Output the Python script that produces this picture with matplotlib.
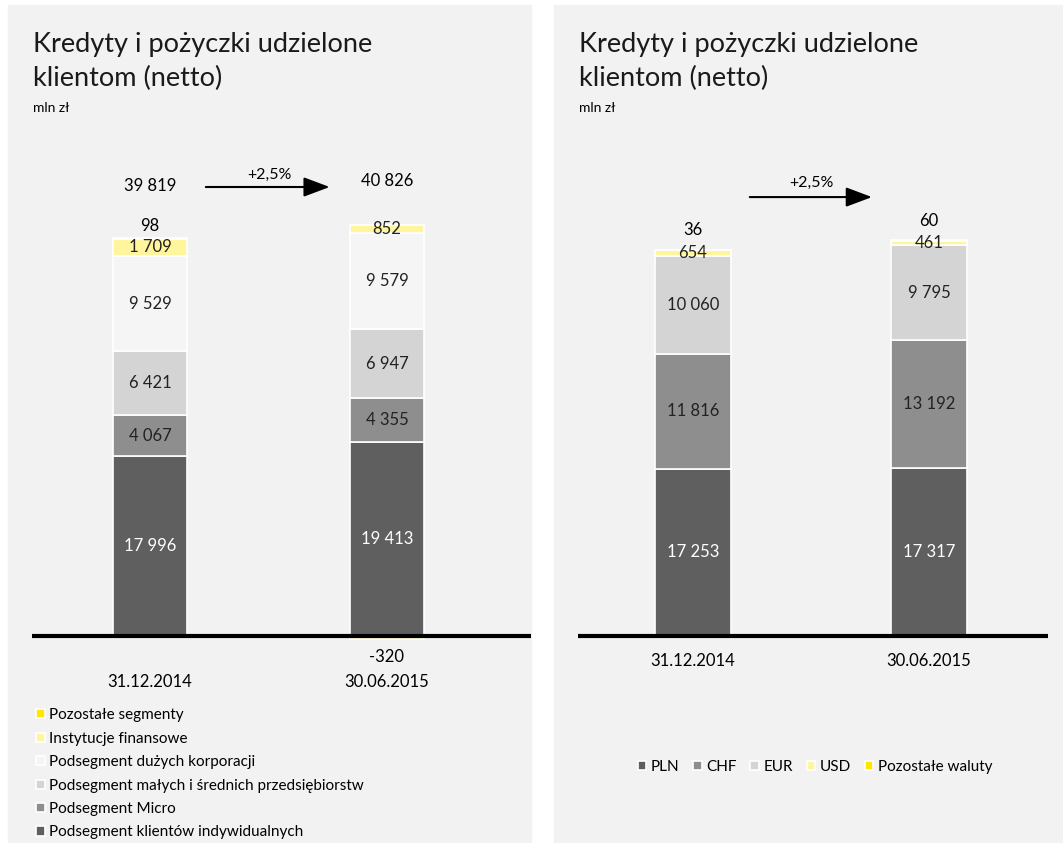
import numpy as np
import matplotlib
matplotlib.use("Agg")
import matplotlib.pyplot as plt
from matplotlib.patches import Rectangle

plt.rcParams["font.family"] = ["Lato", "DejaVu Sans"]

W, H = 1063, 843
PANEL_BG = "#f2f2f2"

dates = ["31.12.2014", "30.06.2015"]

# segment breakdown, bottom to top
seg_names = [
    "Podsegment klientów indywidualnych",
    "Podsegment Micro",
    "Podsegment małych i średnich przedsiębiorstw",
    "Podsegment dużych korporacji",
    "Instytucje finansowe",
    "Pozostałe segmenty",
]
seg_individual = [17996, 19413]
seg_micro = [4067, 4355]
seg_sme = [6421, 6947]
seg_corporate = [9529, 9579]
seg_financial = [1709, 852]
seg_other = [98, -320]
seg_totals = ["39 819", "40 826"]

# currency breakdown, bottom to top
cur_names = ["PLN", "CHF", "EUR", "USD", "Pozostałe waluty"]
cur_pln = [17253, 17317]
cur_chf = [11816, 13192]
cur_eur = [10060, 9795]
cur_usd = [654, 461]
cur_other = [36, 60]

change_label = "+2,5%"

seg_colors = ["#5f5f5f", "#8e8e8e", "#d4d4d4", "#f5f5f5", "#fff59d", "#ffe500"]
cur_colors = ["#5f5f5f", "#8e8e8e", "#d4d4d4", "#fff59d", "#ffe500"]


def fmt(v):
    return f"{v:,}".replace(",", " ")


def px_axes(fig, left, top, right, bottom):
    return fig.add_axes([left / W, 1 - bottom / H, (right - left) / W, (bottom - top) / H])


fig = plt.figure(figsize=(W / 100, H / 100), dpi=100)
fig.patch.set_facecolor("white")

# grey panels behind both charts
for x0, x1 in [(8, 531), (554, 1063)]:
    fig.patches.append(Rectangle((x0 / W, 0), (x1 - x0) / W, 1 - 5 / H,
                                 transform=fig.transFigure, color=PANEL_BG, zorder=-5))

for x in [33, 579]:
    fig.text(x / W, 1 - 32 / H, "Kredyty i pożyczki udzielone\nklientom (netto)",
             fontsize=19.5, va="top", ha="left", linespacing=1.45, color="#1a1a1a")
    fig.text(x / W, 1 - 108 / H, "mln zł", fontsize=10, va="center", ha="left")


def stacked(ax, series, colors, width):
    xs = np.arange(2)
    pos_base = np.zeros(2)
    neg_base = np.zeros(2)
    containers = []
    for vals, c in zip(series, colors):
        vals = np.array(vals, dtype=float)
        bottoms = np.where(vals >= 0, pos_base, neg_base)
        bc = ax.bar(xs, vals, width, bottom=bottoms, color=c, edgecolor="white",
                    linewidth=1.2, zorder=2)
        containers.append((bc, bottoms, vals))
        pos_base = pos_base + np.where(vals >= 0, vals, 0)
        neg_base = neg_base + np.where(vals < 0, vals, 0)
    return containers, pos_base


def setup(ax, xl, xr):
    ax.set_facecolor("none")
    ax.set_xlim(xl, xr)
    ax.set_ylim(-1000, 48000)
    for s in ax.spines.values():
        s.set_visible(False)
    ax.set_xticks([])
    ax.set_yticks([])
    ax.axhline(0, color="black", lw=3, zorder=3)


# ---- left chart: segments ----
axl = px_axes(fig, 32, 646 - 490, 531, 646)
setup(axl, -0.498, 1.608)
series = [seg_individual, seg_micro, seg_sme, seg_corporate, seg_financial, seg_other]
conts, tops = stacked(axl, series, seg_colors, 0.312)
for k, (bc, bottoms, vals) in enumerate(conts):
    for i in range(2):
        v = vals[i]
        if k == 5:
            if v >= 0:
                axl.text(i, bottoms[i] + v + 1200, fmt(int(v)), ha="center", va="center", fontsize=12)
            else:
                axl.text(i, -2100, fmt(int(v)), ha="center", va="center", fontsize=12, clip_on=False)
            continue
        col = "white" if k == 0 else "#222222"
        axl.text(i, bottoms[i] + v / 2, fmt(int(v)), ha="center", va="center", fontsize=12,
                 color=col, zorder=4)
for i, t in enumerate(seg_totals):
    axl.text(i, 45000 + 500 * i, t, ha="center", va="center", fontsize=12)
    axl.text(i, -4600, dates[i], ha="center", va="center", fontsize=12, clip_on=False)
axl.annotate("", xy=(0.77, 44900), xytext=(0.224, 44900),
             arrowprops=dict(arrowstyle="-|>,head_length=1.6,head_width=0.6", color="black", lw=1.5))
axl.text(0.506, 46100, change_label, ha="center", va="center", fontsize=11.5)

handles = [conts[k][0] for k in range(6)][::-1]
axl.legend(handles, seg_names[::-1], loc="upper left", bbox_to_anchor=(30 / W, 1 - 702 / H),
           bbox_transform=fig.transFigure, frameon=False, fontsize=11,
           handlelength=0.55, handleheight=0.55, handletextpad=0.3, labelspacing=0.62,
           borderaxespad=0)

# ---- right chart: currencies ----
sc = 0.0097
axr = px_axes(fig, 578, 636 + 1000 * sc - 49000 * sc, 1048, 636 + 1000 * sc)
setup(axr, -0.487, 1.504)
series = [cur_pln, cur_chf, cur_eur, cur_usd, cur_other]
conts_r, tops_r = stacked(axr, series, cur_colors, 0.32)
for k, (bc, bottoms, vals) in enumerate(conts_r):
    for i in range(2):
        v = vals[i]
        if k == 4:
            axr.text(i, bottoms[i] + v + 2000, fmt(int(v)), ha="center", va="center", fontsize=12)
            continue
        col = "white" if k == 0 else "#222222"
        axr.text(i, bottoms[i] + v / 2, fmt(int(v)), ha="center", va="center", fontsize=12,
                 color=col, zorder=4)
for i in range(2):
    axr.text(i, -2600, dates[i], ha="center", va="center", fontsize=12, clip_on=False)
axr.annotate("", xy=(0.77, 45250), xytext=(0.229, 45250),
             arrowprops=dict(arrowstyle="-|>,head_length=1.6,head_width=0.6", color="black", lw=1.5))
axr.text(0.5, 46700, change_label, ha="center", va="center", fontsize=11.5)

axr.legend([c[0] for c in conts_r], cur_names, loc="center", bbox_to_anchor=(815 / W, 1 - 767 / H),
           bbox_transform=fig.transFigure, frameon=False, fontsize=11, ncol=5,
           handlelength=0.55, handleheight=0.55, handletextpad=0.3, columnspacing=0.9,
           borderaxespad=0)

fig.savefig("out.png", dpi=100, facecolor="white")
